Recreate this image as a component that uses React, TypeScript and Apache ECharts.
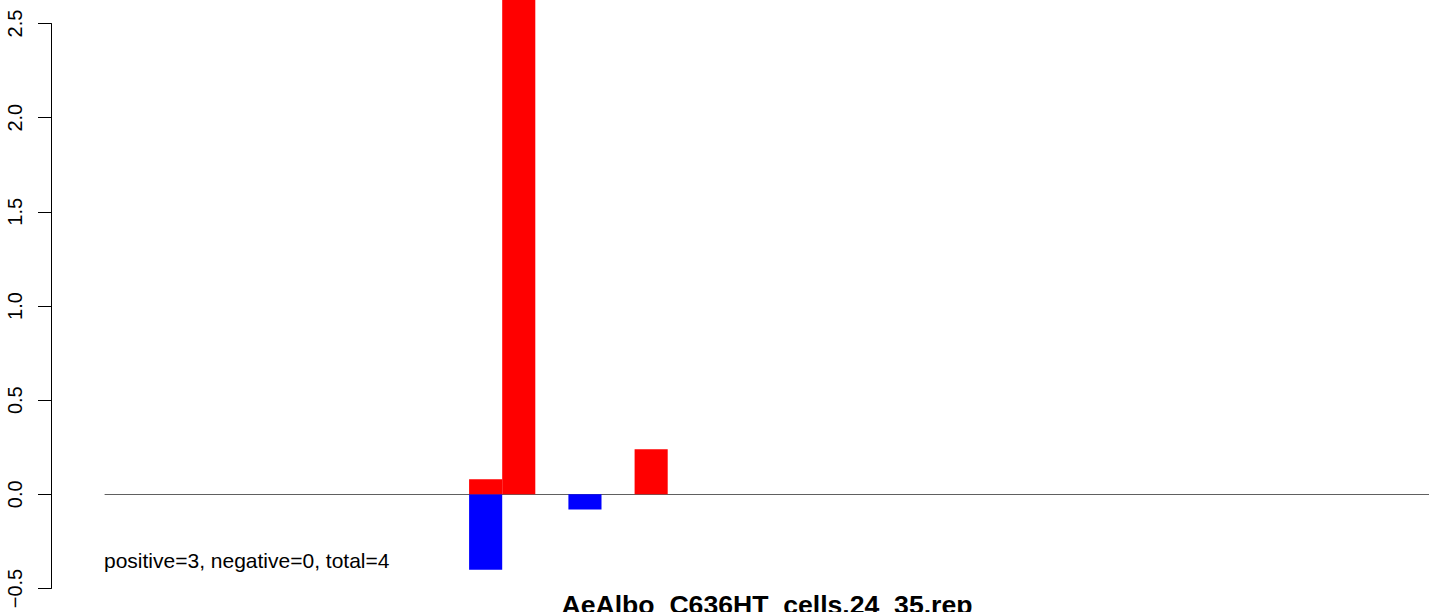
import React, { useEffect, useRef } from "react";
import * as echarts from "echarts";

const slots: string[] = Array.from({ length: 40 }, (_, i) => String(i + 1));
const redIdx = [11, 12, 16];
const redVals = [0.08, 3.0, 0.24];
const blueIdx = [11, 14];
const blueVals = [-0.4, -0.08];
const yTicks = [-0.5, 0.0, 0.5, 1.0, 1.5, 2.0, 2.5];
const noteText = "positive=3, negative=0, total=4";
const titleText = "AeAlbo_C636HT_cells.24_35.rep";

function toSeries(idx: number[], vals: number[]) {
  const arr: (number | null)[] = slots.map(() => null);
  idx.forEach((k, i) => (arr[k] = vals[i]));
  return arr;
}

export default function App() {
  const ref = useRef<HTMLDivElement>(null);
  useEffect(() => {
    document.body.style.margin = "0";
    const chart = echarts.init(ref.current!, null, { renderer: "svg" });
    chart.setOption({
      animation: false,
      grid: { left: 105, right: 0, top: 23.5, bottom: 23.5 },
      graphic: [
        {
          type: "text",
          x: 104,
          y: 560,
          style: {
            text: noteText,
            fontFamily: "Liberation Sans",
            fontSize: 21,
            fill: "#000",
            verticalAlign: "middle",
          },
        },
        {
          type: "text",
          x: 767,
          y: 604.8,
          style: {
            text: titleText,
            fontFamily: "Liberation Sans",
            fontWeight: "bold",
            fontSize: 26.6,
            fill: "#000",
            align: "center",
            verticalAlign: "middle",
          },
        },
      ],
      xAxis: {
        type: "category",
        data: slots,
        boundaryGap: true,
        axisLine: { show: true, onZero: true, lineStyle: { color: "#606060", width: 1 } },
        axisTick: { show: false },
        axisLabel: { show: false },
        splitLine: { show: false },
      },
      yAxis: {
        type: "value",
        min: -0.5,
        max: 2.5,
        interval: 0.5,
        offset: 54,
        axisLine: { show: true, lineStyle: { color: "#000", width: 1 } },
        axisTick: { show: true, length: 13, lineStyle: { color: "#000" } },
        axisLabel: {
          rotate: 90,
          margin: 26,
          fontFamily: "Liberation Sans",
          fontSize: 20,
          color: "#000",
          formatter: (v: number) => {
            const t = yTicks.find((x) => Math.abs(x - v) < 1e-9);
            return t === undefined ? "" : t < 0 ? "\u2212" + Math.abs(t).toFixed(1) : t.toFixed(1);
          },
        },
        splitLine: { show: false },
      },
      series: [
        {
          type: "bar",
          data: toSeries(blueIdx, blueVals),
          barWidth: "100%",
          barGap: "-100%",
          clip: false,
          itemStyle: { color: "#0000ff" },
        },
        {
          type: "bar",
          data: toSeries(redIdx, redVals),
          barWidth: "100%",
          barGap: "-100%",
          clip: false,
          itemStyle: { color: "#ff0000" },
        },
      ],
    });
    return () => chart.dispose();
  }, []);
  return <div ref={ref} style={{ width: 1429, height: 612 }} />;
}
